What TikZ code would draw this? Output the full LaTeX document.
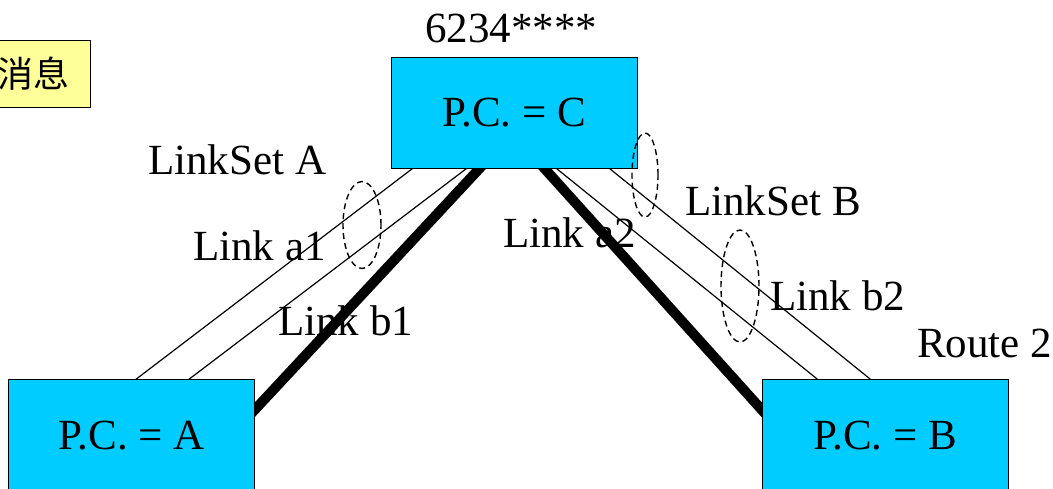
\documentclass[tikz,border=0pt]{standalone}
\usepackage{fontspec}
\usetikzlibrary{shapes.geometric}
\setmainfont{Liberation Serif}
\newfontfamily\cjk{Noto Sans CJK SC}
\definecolor{pcfill}{HTML}{00CCFF}
\definecolor{notefill}{HTML}{FFFF99}
\pgfdeclarelayer{links}
\pgfsetlayers{links,main}

\begin{document}
\begin{tikzpicture}[x=1pt,y=-1pt,
  pcbox/.style={draw=black, line width=1pt, fill=pcfill, rectangle, inner sep=0pt,
    minimum width=246pt, minimum height=111pt, text depth=0pt,
    font=\fontsize{43}{50}\selectfont},
  notebox/.style={draw=black, line width=1pt, fill=notefill, rectangle, inner sep=0pt,
    minimum width=112pt, minimum height=67pt, font=\cjk\fontsize{36}{42}\selectfont},
  lbl/.style={anchor=base west, inner sep=0pt, font=\fontsize{43}{50}\selectfont},
  thinlink/.style={line width=1.2pt, shorten <=-3pt, shorten >=-3pt},
  thicklink/.style={line width=10pt, shorten <=-8pt, shorten >=-8pt},
  setring/.style={draw, line width=1.4pt, dash pattern=on 6pt off 4pt},
]
\useasboundingbox (0,0) rectangle (1053,488);
\clip (0,0) rectangle (1053,488);

% signalling points
\node[pcbox] (C) at (514,112.5) {P.C. = C};
\node[pcbox, minimum height=112pt] (A) at (131.5,435) {P.C. = A};
\node[pcbox, minimum height=112pt] (B) at (885,435) {P.C. = B};

% message note
\node[notebox] (msg) at (34,73.5) {消息};

% link attachment points on the box edges
\coordinate (ca1) at ([xshift=22pt]C.south west);
\coordinate (ca2) at ([xshift=76pt]C.south west);
\coordinate (cta) at ([xshift=89pt]C.south west);
\coordinate (ctb) at ([xshift=154pt]C.south west);
\coordinate (cb1) at ([xshift=166pt]C.south west);
\coordinate (cb2) at ([xshift=219pt]C.south west);
\coordinate (a1) at ([xshift=129pt]A.north west);
\coordinate (a2) at ([xshift=182pt]A.north west);
\coordinate (at) at ([yshift=-31pt]A.north east);
\coordinate (bt) at ([yshift=-31pt]B.north west);
\coordinate (b1) at ([xshift=55pt]B.north west);
\coordinate (b2) at ([xshift=108pt]B.north west);

\begin{pgfonlayer}{links}
  \draw[thinlink] (ca1) -- (a1);
  \draw[thinlink] (ca2) -- (a2);
  \draw[thicklink] (cta) -- (at);
  \draw[thicklink] (ctb) -- (bt);
  \draw[thinlink] (cb1) -- (b1);
  \draw[thinlink] (cb2) -- (b2);
\end{pgfonlayer}

% link set rings
\node[setring, ellipse, minimum width=38pt, minimum height=87pt, inner sep=0pt] (ringA) at (362,225) {};
\node[setring, ellipse, minimum width=26pt, minimum height=84pt, inner sep=0pt] (ringB) at (645,175) {};
\node[setring, ellipse, minimum width=38pt, minimum height=112pt, inner sep=0pt] (ringB2) at (740,286) {};

% labels
\node[lbl] (code) at (425,42) {6234****};
\node[lbl] (lsA) at (148,174) {LinkSet A};
\node[lbl] (la1) at (193,260) {Link a1};
\node[lbl] (lb1) at (278,335) {Link b1};
\node[lbl] (la2) at (503,247) {Link a2};
\node[lbl] (lsB) at (685,215) {LinkSet B};
\node[lbl] (lb2) at (770,310) {Link b2};
\node[lbl] (rt2) at (917,357) {Route 2};
\end{tikzpicture}
\end{document}
